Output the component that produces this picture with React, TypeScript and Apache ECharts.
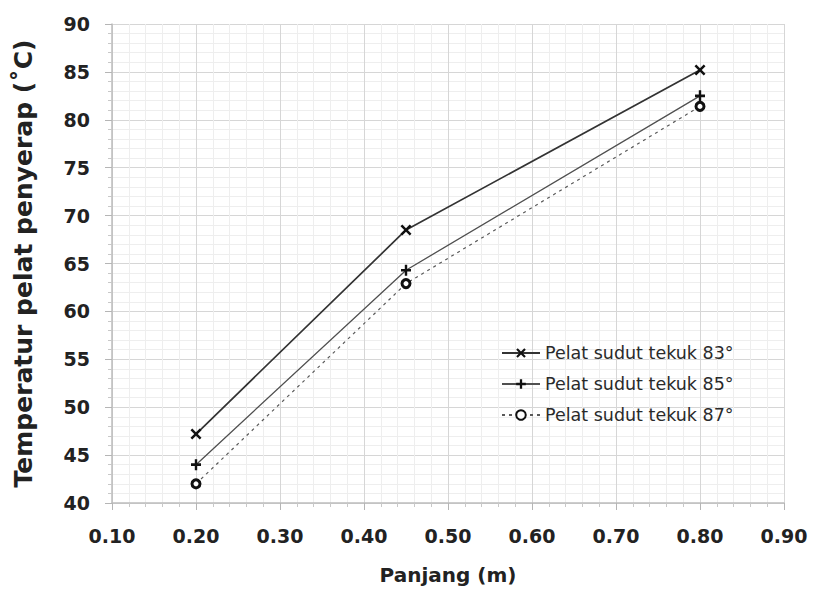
import React, { useEffect, useRef } from "react";
import * as echarts from "echarts";

const xValues = [0.2, 0.45, 0.8];
const series83 = [47.2, 68.5, 85.2];
const series85 = [44.0, 64.3, 82.5];
const series87 = [42.0, 62.9, 81.4];
const seriesNames = [
  "Pelat sudut tekuk 83°",
  "Pelat sudut tekuk 85°",
  "Pelat sudut tekuk 87°",
];

const X_PATH =
  "path://M0,1.6 L1.6,0 L5,3.4 L8.4,0 L10,1.6 L6.6,5 L10,8.4 L8.4,10 L5,6.6 L1.6,10 L0,8.4 L3.4,5 Z";
const PLUS_PATH =
  "path://M3.8,0 L6.2,0 L6.2,3.8 L10,3.8 L10,6.2 L6.2,6.2 L6.2,10 L3.8,10 L3.8,6.2 L0,6.2 L0,3.8 L3.8,3.8 Z";

const FONT = "'DejaVu Sans', 'Noto Sans', sans-serif";

export default function App() {
  const ref = useRef<HTMLDivElement>(null);

  useEffect(() => {
    if (!ref.current) return;
    const chart = echarts.init(ref.current, null, { renderer: "svg" });
    const pair = (ys: number[]) => xValues.map((x, i) => [x, ys[i]]);

    chart.setOption({
      animation: false,
      backgroundColor: "#ffffff",
      textStyle: { fontFamily: FONT },
      grid: { left: 112, right: 29, top: 24, bottom: 90, containLabel: false },
      legend: {
        orient: "vertical",
        left: 496,
        top: 339,
        itemWidth: 38,
        itemHeight: 12,
        itemGap: 13,
        textStyle: { fontFamily: FONT, fontSize: 17.5, color: "#2a2a2a" },
        data: seriesNames,
      },
      xAxis: {
        type: "value",
        min: 0.1,
        max: 0.9,
        interval: 0.1,
        name: "Panjang (m)",
        nameLocation: "middle",
        nameGap: 62,
        nameTextStyle: { fontFamily: FONT, fontSize: 20, fontWeight: "bold", color: "#222" },
        axisLine: { show: true, lineStyle: { color: "#bdbdbd", width: 1.5 } },
        axisTick: { show: true, length: 7, lineStyle: { color: "#b5b5b5" } },
        minorTick: { show: true, splitNumber: 5, length: 4, lineStyle: { color: "#c8c8c8" } },
        axisLabel: {
          margin: 23,
          fontFamily: FONT,
          fontSize: 19,
          fontWeight: "bold",
          color: "#222",
          formatter: (v: number) => v.toFixed(2),
        },
        splitLine: { show: true, lineStyle: { color: "#d6d6d6", width: 1 } },
        minorSplitLine: { show: true, lineStyle: { color: "#eeeeee", width: 1 } },
      },
      yAxis: {
        type: "value",
        min: 40,
        max: 90,
        interval: 5,
        name: "Temperatur pelat penyerap (˚C)",
        nameLocation: "middle",
        nameGap: 76,
        nameTextStyle: { fontFamily: FONT, fontSize: 25, fontWeight: "bold", color: "#222" },
        axisLine: { show: true, lineStyle: { color: "#bdbdbd", width: 1.5 } },
        axisTick: { show: true, length: 7, lineStyle: { color: "#b5b5b5" } },
        minorTick: { show: true, splitNumber: 5, length: 4, lineStyle: { color: "#c8c8c8" } },
        axisLabel: {
          margin: 22,
          fontFamily: FONT,
          fontSize: 19,
          fontWeight: "bold",
          color: "#222",
        },
        splitLine: { show: true, lineStyle: { color: "#d6d6d6", width: 1 } },
        minorSplitLine: { show: true, lineStyle: { color: "#eeeeee", width: 1 } },
      },
      series: [
        {
          name: seriesNames[0],
          type: "line",
          data: pair(series83),
          symbol: X_PATH,
          symbolSize: 11,
          lineStyle: { color: "#333333", width: 1.7, type: "solid" },
          itemStyle: { color: "#111111", borderWidth: 0 },
          z: 3,
        },
        {
          name: seriesNames[1],
          type: "line",
          data: pair(series85),
          symbol: PLUS_PATH,
          symbolSize: [10, 11],
          lineStyle: { color: "#505050", width: 1.3, type: "solid" },
          itemStyle: { color: "#111111", borderWidth: 0 },
          z: 3,
        },
        {
          name: seriesNames[2],
          type: "line",
          data: pair(series87),
          symbol: "circle",
          symbolSize: 8,
          lineStyle: { color: "#5a5a5a", width: 1.2, type: [3, 4] },
          itemStyle: { color: "#ffffff", borderColor: "#111111", borderWidth: 3 },
          z: 3,
        },
      ],
    });

    return () => chart.dispose();
  }, []);

  return (
    <div
      ref={ref}
      style={{ position: "fixed", left: 0, top: 0, width: 813, height: 593 }}
    />
  );
}
